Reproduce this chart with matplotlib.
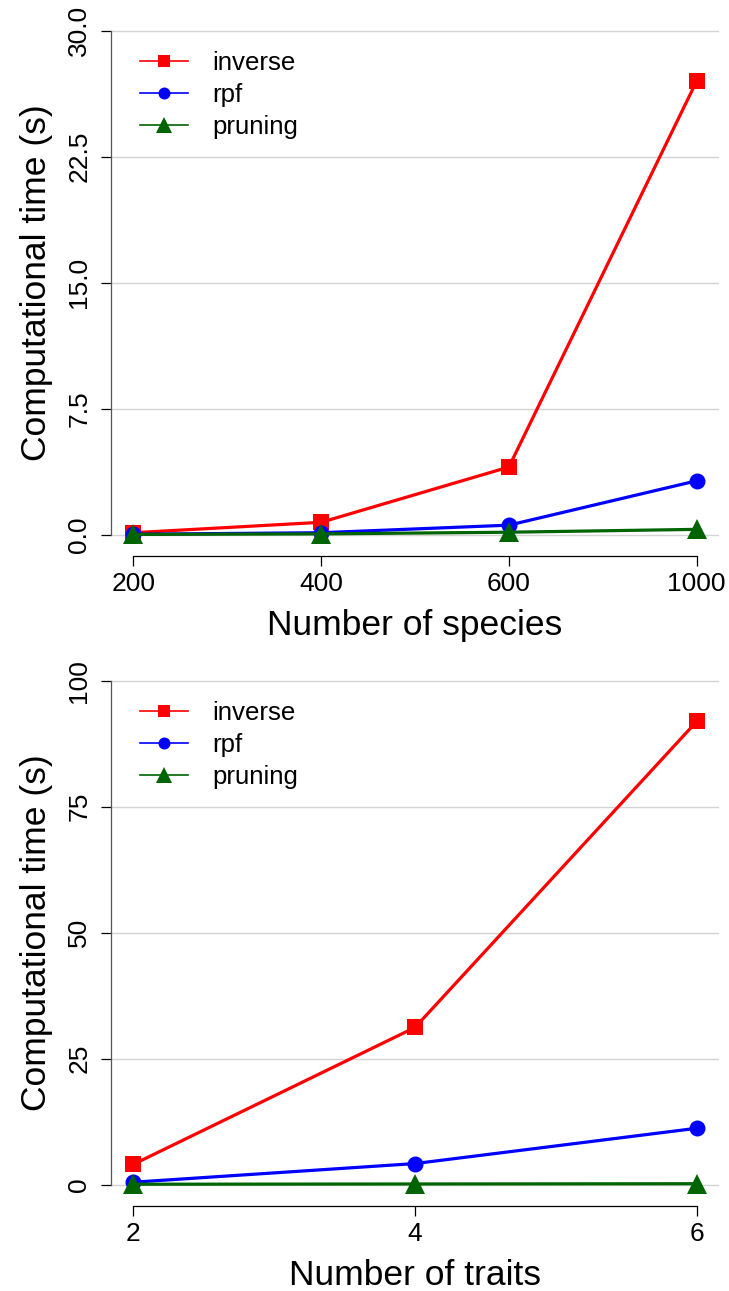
import matplotlib
matplotlib.use("Agg")
import matplotlib.pyplot as plt

plt.rcParams['font.family'] = ['Liberation Sans', 'DejaVu Sans']

# ---- data ----
species = ["200", "400", "600", "1000"]
inverse_sp = [0.12, 0.74, 4.03, 27.0]
rpf_sp = [0.03, 0.12, 0.57, 3.21]
pruning_sp = [0.02, 0.05, 0.15, 0.32]
yticks_sp = [0.0, 7.5, 15.0, 22.5, 30.0]
ytick_labels_sp = ["0.0", "7.5", "15.0", "22.5", "30.0"]

traits = ["2", "4", "6"]
inverse_tr = [4.05, 31.2, 91.9]
rpf_tr = [0.5, 4.2, 11.2]
pruning_tr = [0.1, 0.15, 0.2]
yticks_tr = [0, 25, 50, 75, 100]
ytick_labels_tr = ["0", "25", "50", "75", "100"]

series_names = ["inverse", "rpf", "pruning"]
colors = ["#FF0000", "#0000FF", "#006400"]
markers = ["s", "o", "^"]
msizes = [11.5, 11.5, 14.5]

W, H = 729, 1291
fig = plt.figure(figsize=(W / 100, H / 100), dpi=100)

def px_axes(x0, y0, x1, y1):
    return fig.add_axes([x0 / W, 1 - y1 / H, (x1 - x0) / W, (y1 - y0) / H])

def panel(ax, cats, series, yticks, yticklabels, xlabel):
    n = len(cats)
    pos = list(range(1, n + 1))
    ext = 0.04 * (n - 1)
    ax.set_xlim(1 - ext, n + ext)
    yr = yticks[-1] - yticks[0]
    ax.set_ylim(yticks[0] - 0.04 * yr, yticks[-1] + 0.04 * yr)
    for yt in yticks:
        ax.axhline(yt, color="#D3D3D3", lw=1.0, zorder=0)
    for vals, name, c, m, ms in zip(series, series_names, colors, markers, msizes):
        ax.plot(pos, vals, color=c, lw=2.3, marker=m, markersize=ms,
                markeredgewidth=0, label=name, zorder=3)
    for s in ["top", "right"]:
        ax.spines[s].set_visible(False)
    ax.spines["left"].set_bounds(yticks[0], yticks[-1])
    ax.spines["bottom"].set_bounds(1, n)
    ax.spines["left"].set_color("#555555")
    ax.spines["left"].set_linewidth(0.9)
    ax.spines["bottom"].set_linewidth(0.9)
    ax.spines["bottom"].set_position(("outward", 1))
    ax.set_xticks(pos)
    ax.set_xticklabels(cats, fontsize=19)
    ax.set_yticks(yticks)
    ax.set_yticklabels(yticklabels, fontsize=19, rotation=90, va="center")
    ax.tick_params(axis="both", direction="out", length=7.5, width=0.9)
    ax.tick_params(axis="x", pad=3.5)
    ax.tick_params(axis="y", pad=6.5, colors="black")
    ax.set_xlabel(xlabel, fontsize=25.5, labelpad=10)
    ax.set_ylabel("Computational time (s)", fontsize=25.5, labelpad=10)
    leg = ax.legend(loc="upper left", bbox_to_anchor=(0.048, 0.925), frameon=False,
                    fontsize=18.6, handlelength=1.86, handletextpad=0.93,
                    labelspacing=0.3, borderpad=0, borderaxespad=0)
    for h, ms in zip(leg.legend_handles, msizes):
        h.set_linewidth(1.2)
        h.set_markersize(ms * 0.75)

ax1 = px_axes(110.8, 10.5, 719.2, 554.9)
panel(ax1, species, [inverse_sp, rpf_sp, pruning_sp], yticks_sp, ytick_labels_sp,
      "Number of species")

ax2 = px_axes(110.8, 660.5, 719.2, 1204.9)
panel(ax2, traits, [inverse_tr, rpf_tr, pruning_tr], yticks_tr, ytick_labels_tr,
      "Number of traits")

fig.savefig("out.png", dpi=100)
